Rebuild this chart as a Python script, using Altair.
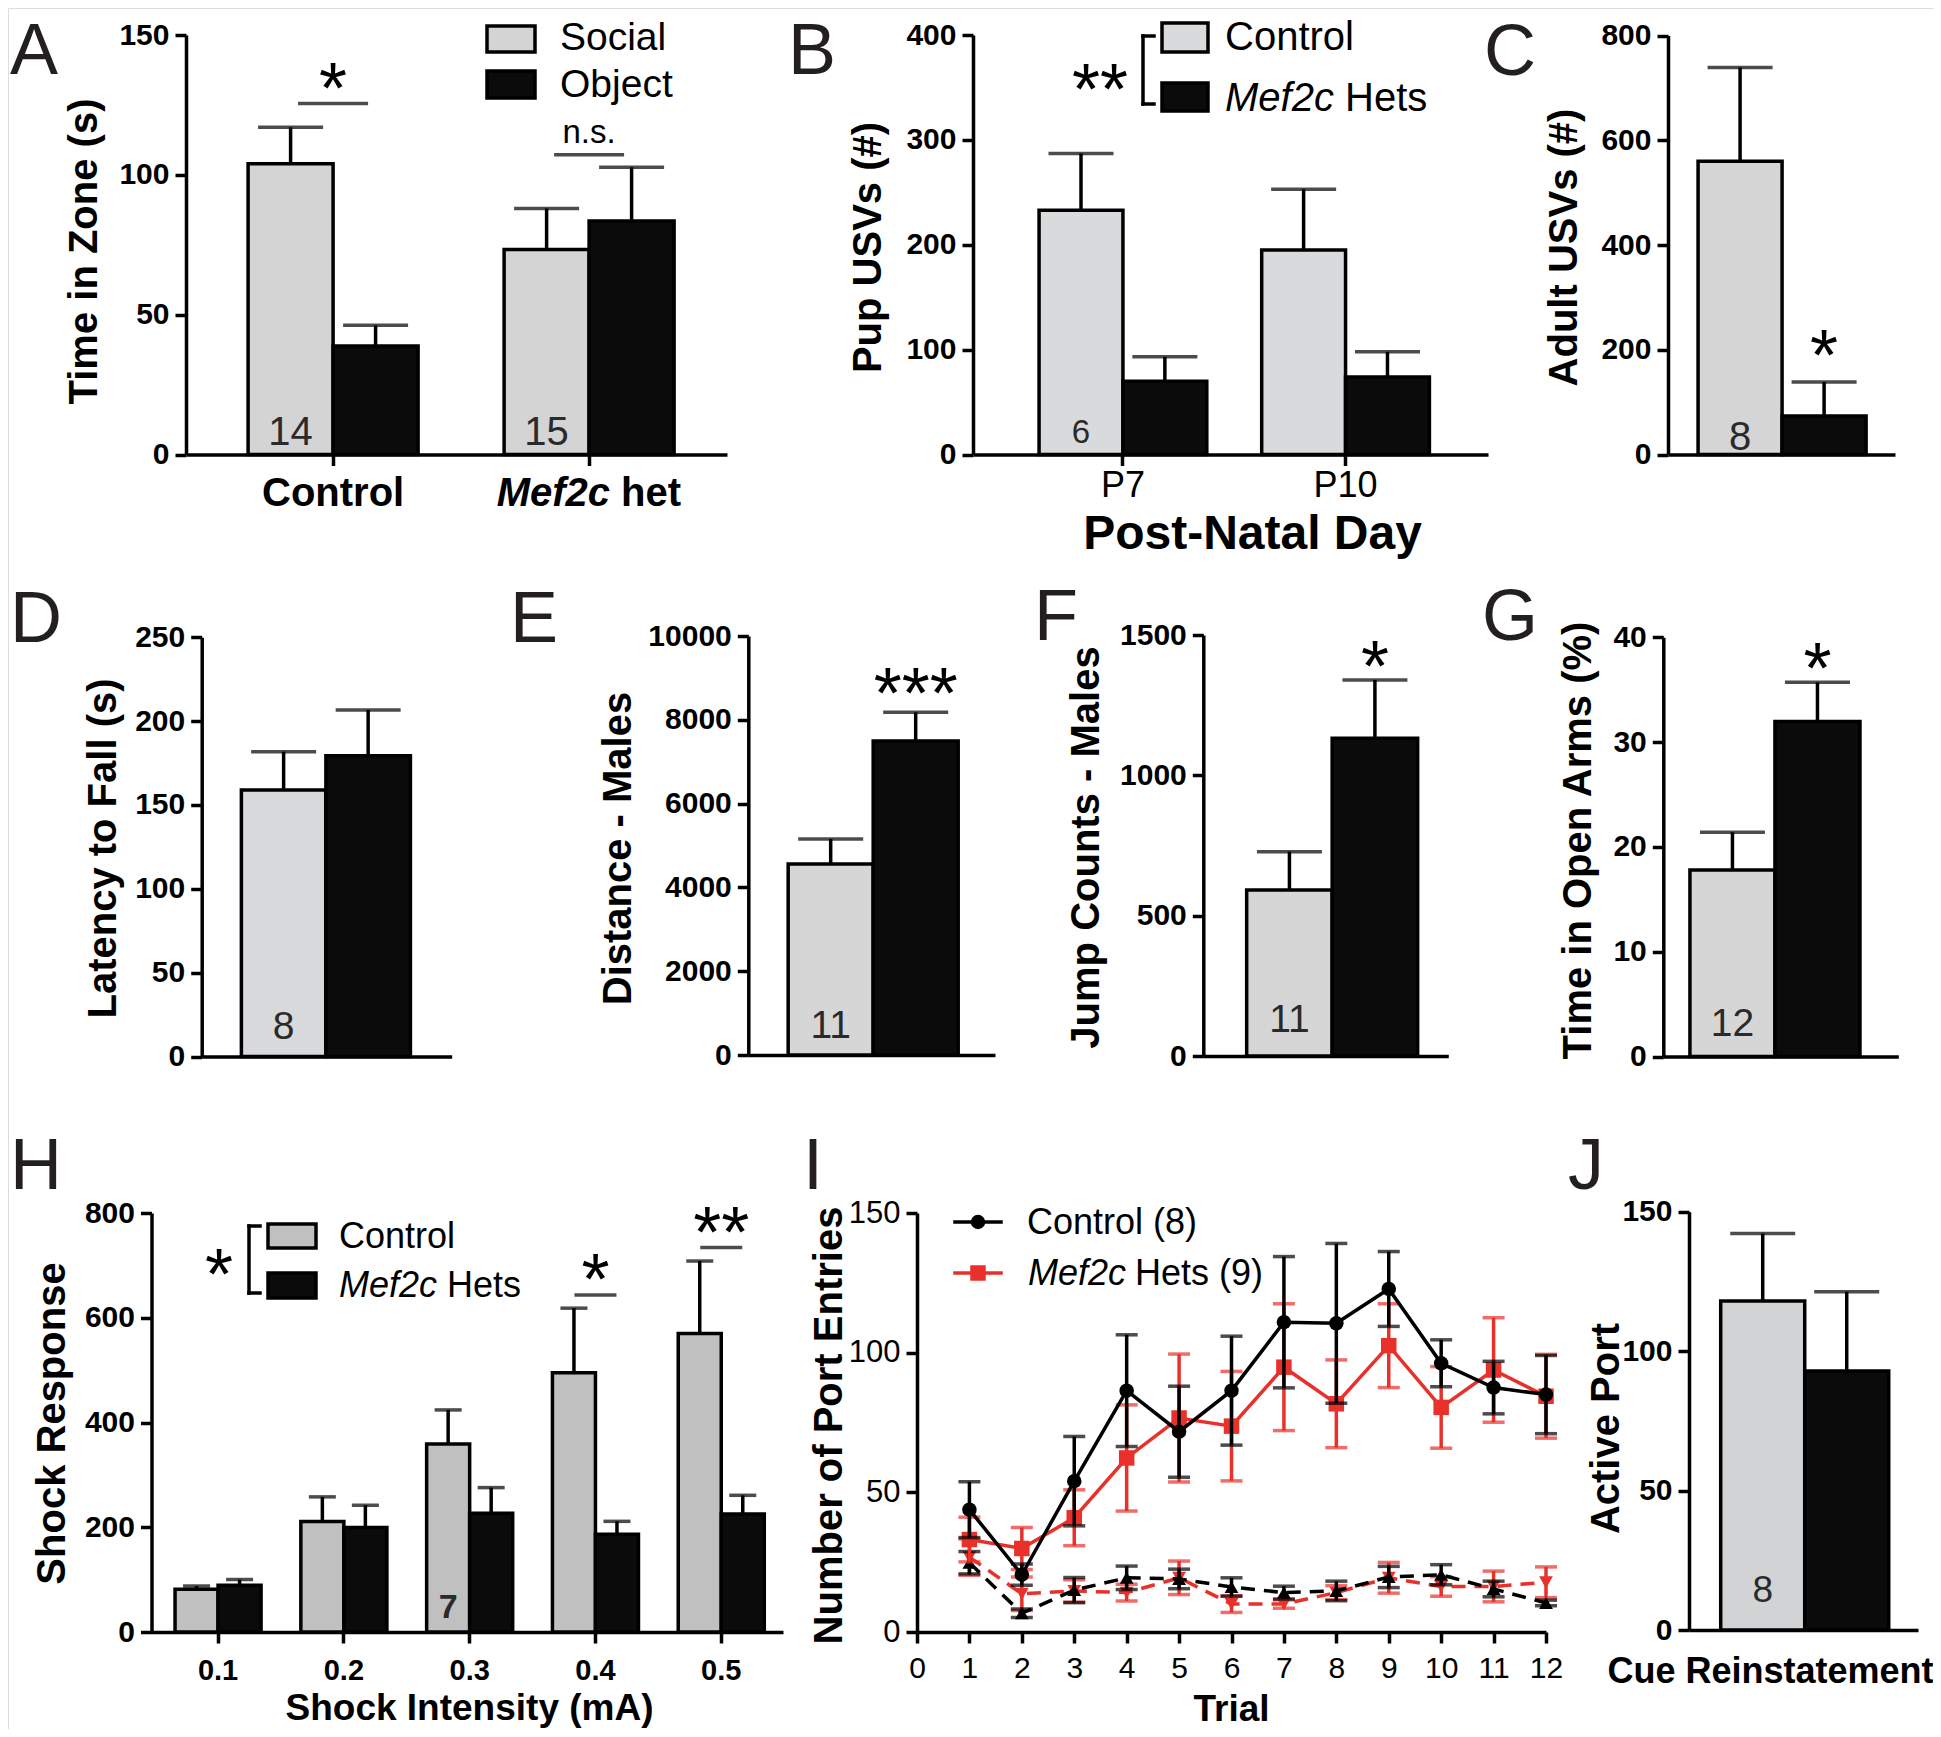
import altair as alt
import pandas as pd

# ======================= DATA =======================
GENO = ["Control", "Mef2c"]

A_GROUPS = ["Control", "Mef2c het"]
A_SERIES = ["Social", "Object"]
A_MEAN = [[104.0, 38.8], [73.3, 83.5]]
A_SEM = [[13.0, 7.4], [14.7, 19.2]]
A_N = ["14", "15"]
A_SIG_LINE = [125.5, 107.2]
A_SIG_TEXT = ["*", "n.s."]
A_SIG_TEXT_Y = [136.6, 111.3]

B_GROUPS = ["P7", "P10"]
B_SERIES = ["Control", "Mef2c Hets"]
B_MEAN = [[232.9, 69.9], [195.0, 74.0]]
B_SEM = [[54.1, 23.2], [58.0, 23.9]]
B_N = ["6", ""]

C_MEAN = [559.7, 73.7]
C_SEM = [179.3, 64.9]
C_N = "8"
C_STAR_Y = 220.0

D_MEAN = [159.0, 179.4]
D_SEM = [22.8, 27.3]
D_N = "8"

E_MEAN = [4558.0, 7494.0]
E_SEM = [597.0, 684.0]
E_N = "11"
E_STAR_Y = 9029.0

F_MEAN = [591.5, 1132.0]
F_SEM = [136.5, 208.0]
F_N = "11"
F_STAR_Y = 1446.0

G_MEAN = [17.8, 31.96]
G_SEM = [3.6, 3.74]
G_N = "12"
G_STAR_Y = 38.6

H_GROUPS = ["0.1", "0.2", "0.3", "0.4", "0.5"]
H_SERIES = ["Control", "Mef2c Hets"]
H_MEAN = [[81.6, 89.3], [211.0, 199.6], [358.8, 226.8], [494.8, 186.4], [570.0, 225.2]]
H_SEM = [[6.2, 10.9], [47.0, 42.4], [65.2, 48.9], [123.5, 24.9], [138.3, 35.8]]
H_N = ["", "", "7", "", ""]
H_SIG_GROUPS = ["0.4", "0.5"]
H_SIG_LINE = [643.4, 734.0]
H_SIG_TEXT = ["*", "**"]
H_SIG_TEXT_Y = [704.8, 794.0]

I_TRIALS = list(range(1, 13))
I_CTRL_ACT = [43.8, 20.5, 54.0, 86.4, 71.7, 86.4, 110.9, 110.5, 122.8, 96.2, 87.5, 85.0]
I_CTRL_ACT_SEM = [10.0, 3.8, 16.0, 20.0, 16.3, 19.5, 23.5, 28.6, 13.4, 8.4, 9.4, 14.0]
I_MEF_ACT = [33.1, 29.9, 40.9, 62.3, 76.6, 73.7, 94.8, 81.7, 102.5, 80.4, 93.8, 84.4]
I_MEF_ACT_SEM = [8.0, 7.5, 10.0, 19.0, 22.9, 19.6, 22.7, 15.7, 15.0, 14.6, 18.7, 15.0]
I_CTRL_INACT = [24.8, 6.7, 15.0, 19.4, 19.0, 16.1, 14.1, 14.7, 19.7, 20.5, 15.4, 10.4]
I_CTRL_INACT_SEM = [4.0, 1.5, 4.5, 4.2, 3.5, 3.3, 2.3, 3.5, 3.8, 3.6, 2.8, 1.0]
I_MEF_INACT = [26.8, 13.7, 14.7, 14.1, 19.4, 10.0, 10.0, 14.1, 19.4, 16.3, 16.3, 17.8]
I_MEF_INACT_SEM = [6.5, 6.0, 4.0, 3.0, 6.0, 3.0, 1.5, 2.5, 5.5, 3.5, 5.5, 5.5]

J_MEAN = [118.0, 92.9]
J_SEM = [24.2, 28.4]
J_N = "8"

# ======================= LAYOUT / STYLE =======================
W, H = 1925, 1721
M = 8  # page margin


def cx(v):
    return v - M


def cy(v):
    return v - M


FONT = "Liberation Sans"
INK = "black"
BLK = "#0b0b0b"
RED = "#e8312a"
LW = 3.5
STAR = 72
STAR_DY = 41
TICK_LABEL = 30


def y_axis(ax_page, values, title, base_page, cy_page, bold=True, lsize=TICK_LABEL, tsize=40):
    return alt.Axis(
        orient="left", offset=-cx(ax_page), values=values, format="d", grid=False,
        domainColor=INK, domainWidth=LW, tickColor=INK, tickWidth=LW, tickSize=11,
        labelFont=FONT, labelFontSize=lsize, labelFontWeight="bold" if bold else "normal",
        labelColor=INK, labelPadding=6, labelOverlap=False, labelFlush=False,
        title=title, titleFont=FONT, titleFontSize=tsize, titleFontWeight="bold",
        titleColor=INK, titleAngle=270, titleBaseline="alphabetic", titleAlign="center",
        titleX=base_page - ax_page, titleY=cy(cy_page))


def x_axis(ax_page_y, ticks, labels, values=None, lsize=28, bold=True, lpad=36,
           title=None, tx=0, ty=0, tsize=37, fmt=None):
    kw = dict(orient="bottom", offset=cy(ax_page_y) - H, grid=False, domainColor=INK,
              domainWidth=LW, ticks=ticks, tickColor=INK, tickWidth=LW, tickSize=11,
              labels=labels, labelAngle=0, labelFont=FONT, labelFontSize=lsize,
              labelFontWeight="bold" if bold else "normal", labelColor=INK,
              labelPadding=lpad, labelBaseline="alphabetic", labelOverlap=False,
              labelFlush=False)
    if values is not None:
        kw["values"] = values
    if fmt:
        kw["format"] = fmt
    if title:
        kw.update(title=title, titleFont=FONT, titleFontSize=tsize, titleFontWeight="bold",
                  titleColor=INK, titleBaseline="alphabetic", titleAlign="center",
                  titleAngle=0, titleX=cx(tx), titleY=ty)
    else:
        kw["title"] = None
    return alt.Axis(**kw)


def bar_panel(groups, series, means, sems, ns, *, gray, x_rng, pin, pout, align,
              y_dom, y_rng, yax, xax, cap, n_size, n_dy, n_bold=False):
    grouped = groups is not None
    rows, nrows = [], []
    if grouped:
        for gi, g in enumerate(groups):
            for si, s in enumerate(series):
                rows.append(dict(grp=g, ser=s, mean=means[gi][si],
                                 top=means[gi][si] + sems[gi][si]))
            if ns[gi]:
                nrows.append(dict(grp=g, ser=series[0], base=0, n=ns[gi]))
        dom = groups
    else:
        for si, s in enumerate(series):
            rows.append(dict(grp=s, ser=s, mean=means[si], top=means[si] + sems[si]))
        nrows.append(dict(grp=series[0], ser=series[0], base=0, n=ns))
        dom = series
    df = pd.DataFrame(rows)
    ndf = pd.DataFrame(nrows)
    xs = alt.Scale(domain=dom, range=[cx(x_rng[0]), cx(x_rng[1])],
                   paddingInner=pin, paddingOuter=pout, align=align)
    ys = alt.Scale(domain=y_dom, range=[cy(y_rng[0]), cy(y_rng[1])], nice=False, zero=False)
    xo = alt.Scale(domain=series, paddingInner=0, paddingOuter=0)

    def enc(yf, offset=True):
        e = dict(x=alt.X("grp:N", scale=xs, axis=xax))
        if grouped and offset:
            e["xOffset"] = alt.XOffset("ser:N", scale=xo)
        e["y"] = alt.Y(f"{yf}:Q", scale=ys, axis=yax, stack=None)
        return e

    fill = alt.Fill("ser:N", scale=alt.Scale(domain=series, range=[gray, BLK]), legend=None)
    layers = [
        alt.Chart(df).mark_bar(stroke=INK, strokeWidth=LW).encode(**enc("mean"), fill=fill),
        alt.Chart(df).mark_rule(color=INK, strokeWidth=LW).encode(**enc("mean"), y2="top:Q"),
        alt.Chart(df).mark_tick(orient="horizontal", size=cap, thickness=LW, color=INK)
        .encode(**enc("top")),
        alt.Chart(ndf).mark_text(font=FONT, fontSize=n_size, color="#2a2a2a",
                                 fontWeight="bold" if n_bold else "normal",
                                 baseline="alphabetic", dy=n_dy)
        .encode(**enc("base"), text="n:N"),
    ]
    return layers, enc


def star_layer(enc, grp, y, label, size=STAR, dy=STAR_DY):
    d = pd.DataFrame({"grp": [grp], "sy": [y], "t": [label]})
    return alt.Chart(d).mark_text(font=FONT, fontSize=size, baseline="alphabetic",
                                  dy=dy, color=INK).encode(**enc("sy", offset=False), text="t:N")


def sig_line(enc, grp, y, length):
    d = pd.DataFrame({"grp": [grp], "ly": [y]})
    return alt.Chart(d).mark_tick(orient="horizontal", size=length, thickness=LW,
                                  color=INK).encode(**enc("ly", offset=False))


def one():
    return pd.DataFrame({"t": [""]})


def txt(s, x, y, size, weight="normal", style="normal", align="left",
        baseline="alphabetic", color=INK, font=FONT):
    return alt.Chart(pd.DataFrame({"t": [s]})).mark_text(
        font=font, fontSize=size, fontWeight=weight, fontStyle=style, align=align,
        baseline=baseline, color=color).encode(x=alt.value(cx(x)), y=alt.value(cy(y)), text="t:N")


def box(x1, y1, x2, y2, fill):
    return alt.Chart(one()).mark_rect(fill=fill, stroke=INK, strokeWidth=LW).encode(
        x=alt.value(cx(x1)), x2=alt.value(cx(x2)), y=alt.value(cy(y1)), y2=alt.value(cy(y2)))


def seg(x1, y1, x2, y2, color=INK, width=LW):
    return alt.Chart(one()).mark_rule(color=color, strokeWidth=width, strokeCap="square").encode(
        x=alt.value(cx(x1)), x2=alt.value(cx(x2)), y=alt.value(cy(y1)), y2=alt.value(cy(y2)))


def dot(x, y, shape, size, color):
    return alt.Chart(one()).mark_point(shape=shape, size=size, filled=True, color=color,
                                       opacity=1).encode(x=alt.value(cx(x)), y=alt.value(cy(y)))


panels = []

# ---------------- Panel A ----------------
a_layers, a_enc = bar_panel(
    A_GROUPS, A_SERIES, A_MEAN, A_SEM, A_N, gray="#d4d4d4",
    x_rng=(186, 727), pin=0.336, pout=0.2246, align=0.54,
    y_dom=[0, 150], y_rng=(454.5, 35),
    yax=y_axis(186, [0, 50, 100, 150], "Time in Zone (s)", 96, 251),
    xax=x_axis(454.5, ticks=True, labels=False), cap=65, n_size=40, n_dy=-10)
for g, ly, t, ty in zip(A_GROUPS, A_SIG_LINE, A_SIG_TEXT, A_SIG_TEXT_Y):
    a_layers.append(sig_line(a_enc, g, ly, 70))
    if t == "*":
        a_layers.append(star_layer(a_enc, g, ty, t))
    else:
        a_layers.append(star_layer(a_enc, g, ty, t, size=33, dy=0))
xl = pd.DataFrame({"grp": A_GROUPS, "base": [0, 0]})
a_layers.append(alt.Chart(xl.iloc[[0]]).mark_text(font=FONT, fontSize=40, fontWeight="bold",
                baseline="alphabetic", dy=51).encode(**a_enc("base", offset=False), text=alt.value("Control")))
a_layers.append(alt.Chart(xl.iloc[[1]]).mark_text(font=FONT, fontSize=40, fontWeight="bold",
                fontStyle="italic", align="right", baseline="alphabetic", dy=51, dx=21)
                .encode(**a_enc("base", offset=False), text=alt.value("Mef2c")))
a_layers.append(alt.Chart(xl.iloc[[1]]).mark_text(font=FONT, fontSize=40, fontWeight="bold",
                align="left", baseline="alphabetic", dy=51, dx=32)
                .encode(**a_enc("base", offset=False), text=alt.value("het")))
panels.append(alt.layer(*a_layers))

# ---------------- Panel B ----------------
b_layers, b_enc = bar_panel(
    B_GROUPS, B_SERIES, B_MEAN, B_SEM, B_N, gray="#d9dadb",
    x_rng=(973, 1488), pin=0.2466, pout=0.28, align=0.53,
    y_dom=[0, 400], y_rng=(454.5, 35),
    yax=y_axis(973, [0, 100, 200, 300, 400], "Pup USVs (#)", 880, 247),
    xax=x_axis(454.5, ticks=True, labels=True, lsize=36, bold=False, lpad=31,
               title="Post-Natal Day", tx=1252, ty=93.5, tsize=48),
    cap=65, n_size=33, n_dy=-12)
panels.append(alt.layer(*b_layers))

# ---------------- Panel C ----------------
c_layers, c_enc = bar_panel(
    None, GENO, C_MEAN, C_SEM, C_N, gray="#d5d5d5",
    x_rng=(1668, 1895), pin=0.0, pout=0.351, align=0.51,
    y_dom=[0, 800], y_rng=(454.5, 35.5),
    yax=y_axis(1668, [0, 200, 400, 600, 800], "Adult USVs (#)", 1576, 247),
    xax=x_axis(454.5, ticks=False, labels=False), cap=65, n_size=40, n_dy=-5)
c_layers.append(star_layer(c_enc, "Mef2c", C_STAR_Y, "*"))
panels.append(alt.layer(*c_layers))

# ---------------- Panel D ----------------
d_layers, d_enc = bar_panel(
    None, GENO, D_MEAN, D_SEM, D_N, gray="#d8d9db",
    x_rng=(201.7, 451.7), pin=0.0, pout=0.479, align=0.49,
    y_dom=[0, 250], y_rng=(1056.5, 637.3),
    yax=y_axis(201.7, [0, 50, 100, 150, 200, 250], "Latency to Fall (s)", 115, 848),
    xax=x_axis(1056.5, ticks=False, labels=False), cap=65, n_size=39, n_dy=-18)
panels.append(alt.layer(*d_layers))

# ---------------- Panel E ----------------
e_layers, e_enc = bar_panel(
    None, GENO, E_MEAN, E_SEM, E_N, gray="#d6d6d6",
    x_rng=(748.3, 995), pin=0.0, pout=0.451, align=0.52,
    y_dom=[0, 10000], y_rng=(1055, 636),
    yax=y_axis(748.3, [0, 2000, 4000, 6000, 8000, 10000], "Distance - Males", 630, 848),
    xax=x_axis(1055, ticks=False, labels=False), cap=65, n_size=39, n_dy=-17)
e_layers.append(star_layer(e_enc, "Mef2c", E_STAR_Y, "***"))
panels.append(alt.layer(*e_layers))

# ---------------- Panel F ----------------
f_layers, f_enc = bar_panel(
    None, GENO, F_MEAN, F_SEM, F_N, gray="#d6d6d6",
    x_rng=(1203.3, 1448.3), pin=0.0, pout=0.433, align=0.586,
    y_dom=[0, 1500], y_rng=(1056, 635),
    yax=y_axis(1203.3, [0, 500, 1000, 1500], "Jump Counts - Males", 1098, 847),
    xax=x_axis(1056, ticks=False, labels=False), cap=65, n_size=39, n_dy=-24)
f_layers.append(star_layer(f_enc, "Mef2c", F_STAR_Y, "*"))
panels.append(alt.layer(*f_layers))

# ---------------- Panel G ----------------
g_layers, g_enc = bar_panel(
    None, GENO, G_MEAN, G_SEM, G_N, gray="#d6d6d6",
    x_rng=(1663.3, 1898.3), pin=0.0, pout=0.382, align=0.41,
    y_dom=[0, 40], y_rng=(1056.5, 637.3),
    yax=y_axis(1663.3, [0, 10, 20, 30, 40], "Time in Open Arms (%)", 1590, 840),
    xax=x_axis(1056.5, ticks=False, labels=False), cap=65, n_size=39, n_dy=-21)
g_layers.append(star_layer(g_enc, "Mef2c", G_STAR_Y, "*"))
panels.append(alt.layer(*g_layers))

# ---------------- Panel H ----------------
h_layers, h_enc = bar_panel(
    H_GROUPS, H_SERIES, H_MEAN, H_SEM, H_N, gray="#c0c0c0",
    x_rng=(151.5, 783), pin=0.316, pout=0.168, align=0.557,
    y_dom=[0, 800], y_rng=(1632, 1213),
    yax=y_axis(151.5, [0, 200, 400, 600, 800], "Shock Response", 64, 1423),
    xax=x_axis(1632, ticks=True, labels=True, lsize=29, bold=True, lpad=36,
               title="Shock Intensity (mA)", tx=469, ty=87, tsize=37),
    cap=27, n_size=34, n_dy=-14, n_bold=True)
for g, ly, t, ty in zip(H_SIG_GROUPS, H_SIG_LINE, H_SIG_TEXT, H_SIG_TEXT_Y):
    h_layers.append(sig_line(h_enc, g, ly, 42))
    h_layers.append(star_layer(h_enc, g, ty, t))
panels.append(alt.layer(*h_layers))

# ---------------- Panel I ----------------
i_xs = alt.Scale(domain=[0, 12], range=[cx(917), cx(1546)], nice=False, zero=False)
i_ys = alt.Scale(domain=[0, 150], range=[cy(1632), cy(1213)], nice=False, zero=False)
i_yax = y_axis(917, [0, 50, 100, 150], "Number of Port Entries", 841, 1425, bold=False, lsize=31)
i_xax = x_axis(1632, ticks=True, labels=True, values=list(range(13)), lsize=30, bold=False,
               lpad=34, title="Trial", tx=1231, ty=88, tsize=37, fmt="d")
I_STYLE = [  # drawing order: back to front
    (I_MEF_INACT, I_MEF_INACT_SEM, RED, True, "triangle-down", 190),
    (I_CTRL_INACT, I_CTRL_INACT_SEM, INK, True, "triangle-up", 190),
    (I_MEF_ACT, I_MEF_ACT_SEM, RED, False, "square", 240),
    (I_CTRL_ACT, I_CTRL_ACT_SEM, INK, False, "circle", 210),
]
i_layers = []
for mean, sem, col, dashed, shape, size in I_STYLE:
    d = pd.DataFrame({"trial": I_TRIALS, "mean": mean,
                      "lo": [m - s for m, s in zip(mean, sem)],
                      "hi": [m + s for m, s in zip(mean, sem)]})
    X = alt.X("trial:Q", scale=i_xs, axis=i_xax)

    def Y(f):
        return alt.Y(f"{f}:Q", scale=i_ys, axis=i_yax)

    line_kw = dict(color=col, strokeWidth=LW)
    if dashed:
        line_kw["strokeDash"] = [14, 9]
    i_layers += [
        alt.Chart(d).mark_rule(color=col, strokeWidth=LW).encode(x=X, y=Y("lo"), y2="hi:Q"),
        alt.Chart(d).mark_tick(orient="horizontal", size=22, thickness=LW, color=col).encode(x=X, y=Y("hi")),
        alt.Chart(d).mark_tick(orient="horizontal", size=22, thickness=LW, color=col).encode(x=X, y=Y("lo")),
        alt.Chart(d).mark_line(**line_kw).encode(x=X, y=Y("mean")),
        alt.Chart(d).mark_point(shape=shape, size=size, filled=True, color=col, opacity=1)
        .encode(x=X, y=Y("mean")),
    ]
panels.append(alt.layer(*i_layers))

# ---------------- Panel J ----------------
j_layers, j_enc = bar_panel(
    None, GENO, J_MEAN, J_SEM, J_N, gray="#d1d3d4",
    x_rng=(1689, 1918), pin=0.0, pout=0.363, align=0.52,
    y_dom=[0, 150], y_rng=(1630, 1211.7),
    yax=y_axis(1689, [0, 50, 100, 150], "Active Port", 1618, 1428),
    xax=x_axis(1630, ticks=False, labels=False, title="Cue Reinstatement",
               tx=1770, ty=52, tsize=36),
    cap=65, n_size=37, n_dy=-28)
panels.append(alt.layer(*j_layers))

# ======================= annotations (legends, letters) =======================
ann = []
# panel letters
for letter, lx, ly in [("A", 10, 74), ("B", 788, 74), ("C", 1484, 75), ("D", 10, 642),
                       ("E", 510, 642), ("F", 1034, 640), ("G", 1482, 640),
                       ("H", 10, 1189), ("I", 803, 1189), ("J", 1568, 1189)]:
    ann.append(txt(letter, lx, ly, 72, color="#231f20"))

# A legend
ann += [box(487, 26, 535, 52, "#d4d4d4"), box(487, 71, 535, 98, BLK),
        txt("Social", 560, 50, 39), txt("Object", 560, 97, 39)]
# B legend
ann += [box(1162, 23, 1208, 52, "#d9dadb"), box(1162, 83, 1208, 111, BLK),
        txt("Control", 1225, 50, 40), txt("Mef2c", 1225, 111, 40, style="italic"),
        txt("Hets", 1345, 111, 40),
        seg(1143, 36, 1143, 104), seg(1143, 36, 1154, 36), seg(1143, 104, 1154, 104),
        txt("**", 1100, 73 + STAR_DY, STAR, align="center")]
# H legend
ann += [box(268, 1224, 316, 1248, "#c0c0c0"), box(268, 1273, 316, 1298, BLK),
        txt("Control", 339, 1248, 36), txt("Mef2c", 339, 1297, 36, style="italic"),
        txt("Hets", 447, 1297, 36),
        seg(249, 1226, 249, 1293), seg(249, 1226, 260, 1226), seg(249, 1293, 260, 1293),
        txt("*", 219, 1258 + STAR_DY, STAR, align="center")]
# I legend
ann += [seg(955, 1222, 1001, 1222), dot(978, 1222, "circle", 210, INK),
        seg(955, 1273, 1001, 1273, color=RED), dot(978, 1273, "square", 240, RED),
        txt("Control (8)", 1027, 1234, 36), txt("Mef2c", 1028, 1285, 36, style="italic"),
        txt("Hets (9)", 1135, 1285, 36)]

chart = (
    alt.layer(*panels, *ann)
    .resolve_scale(x="independent", y="independent", xOffset="independent", fill="independent")
    .properties(width=W, height=H, padding=0, autosize=alt.AutoSizeParams(type="none"))
    .configure_view(strokeWidth=0)
    .configure(font=FONT, background="white")
)

chart.save("out.html", embed_options={"renderer": "svg", "actions": False})
